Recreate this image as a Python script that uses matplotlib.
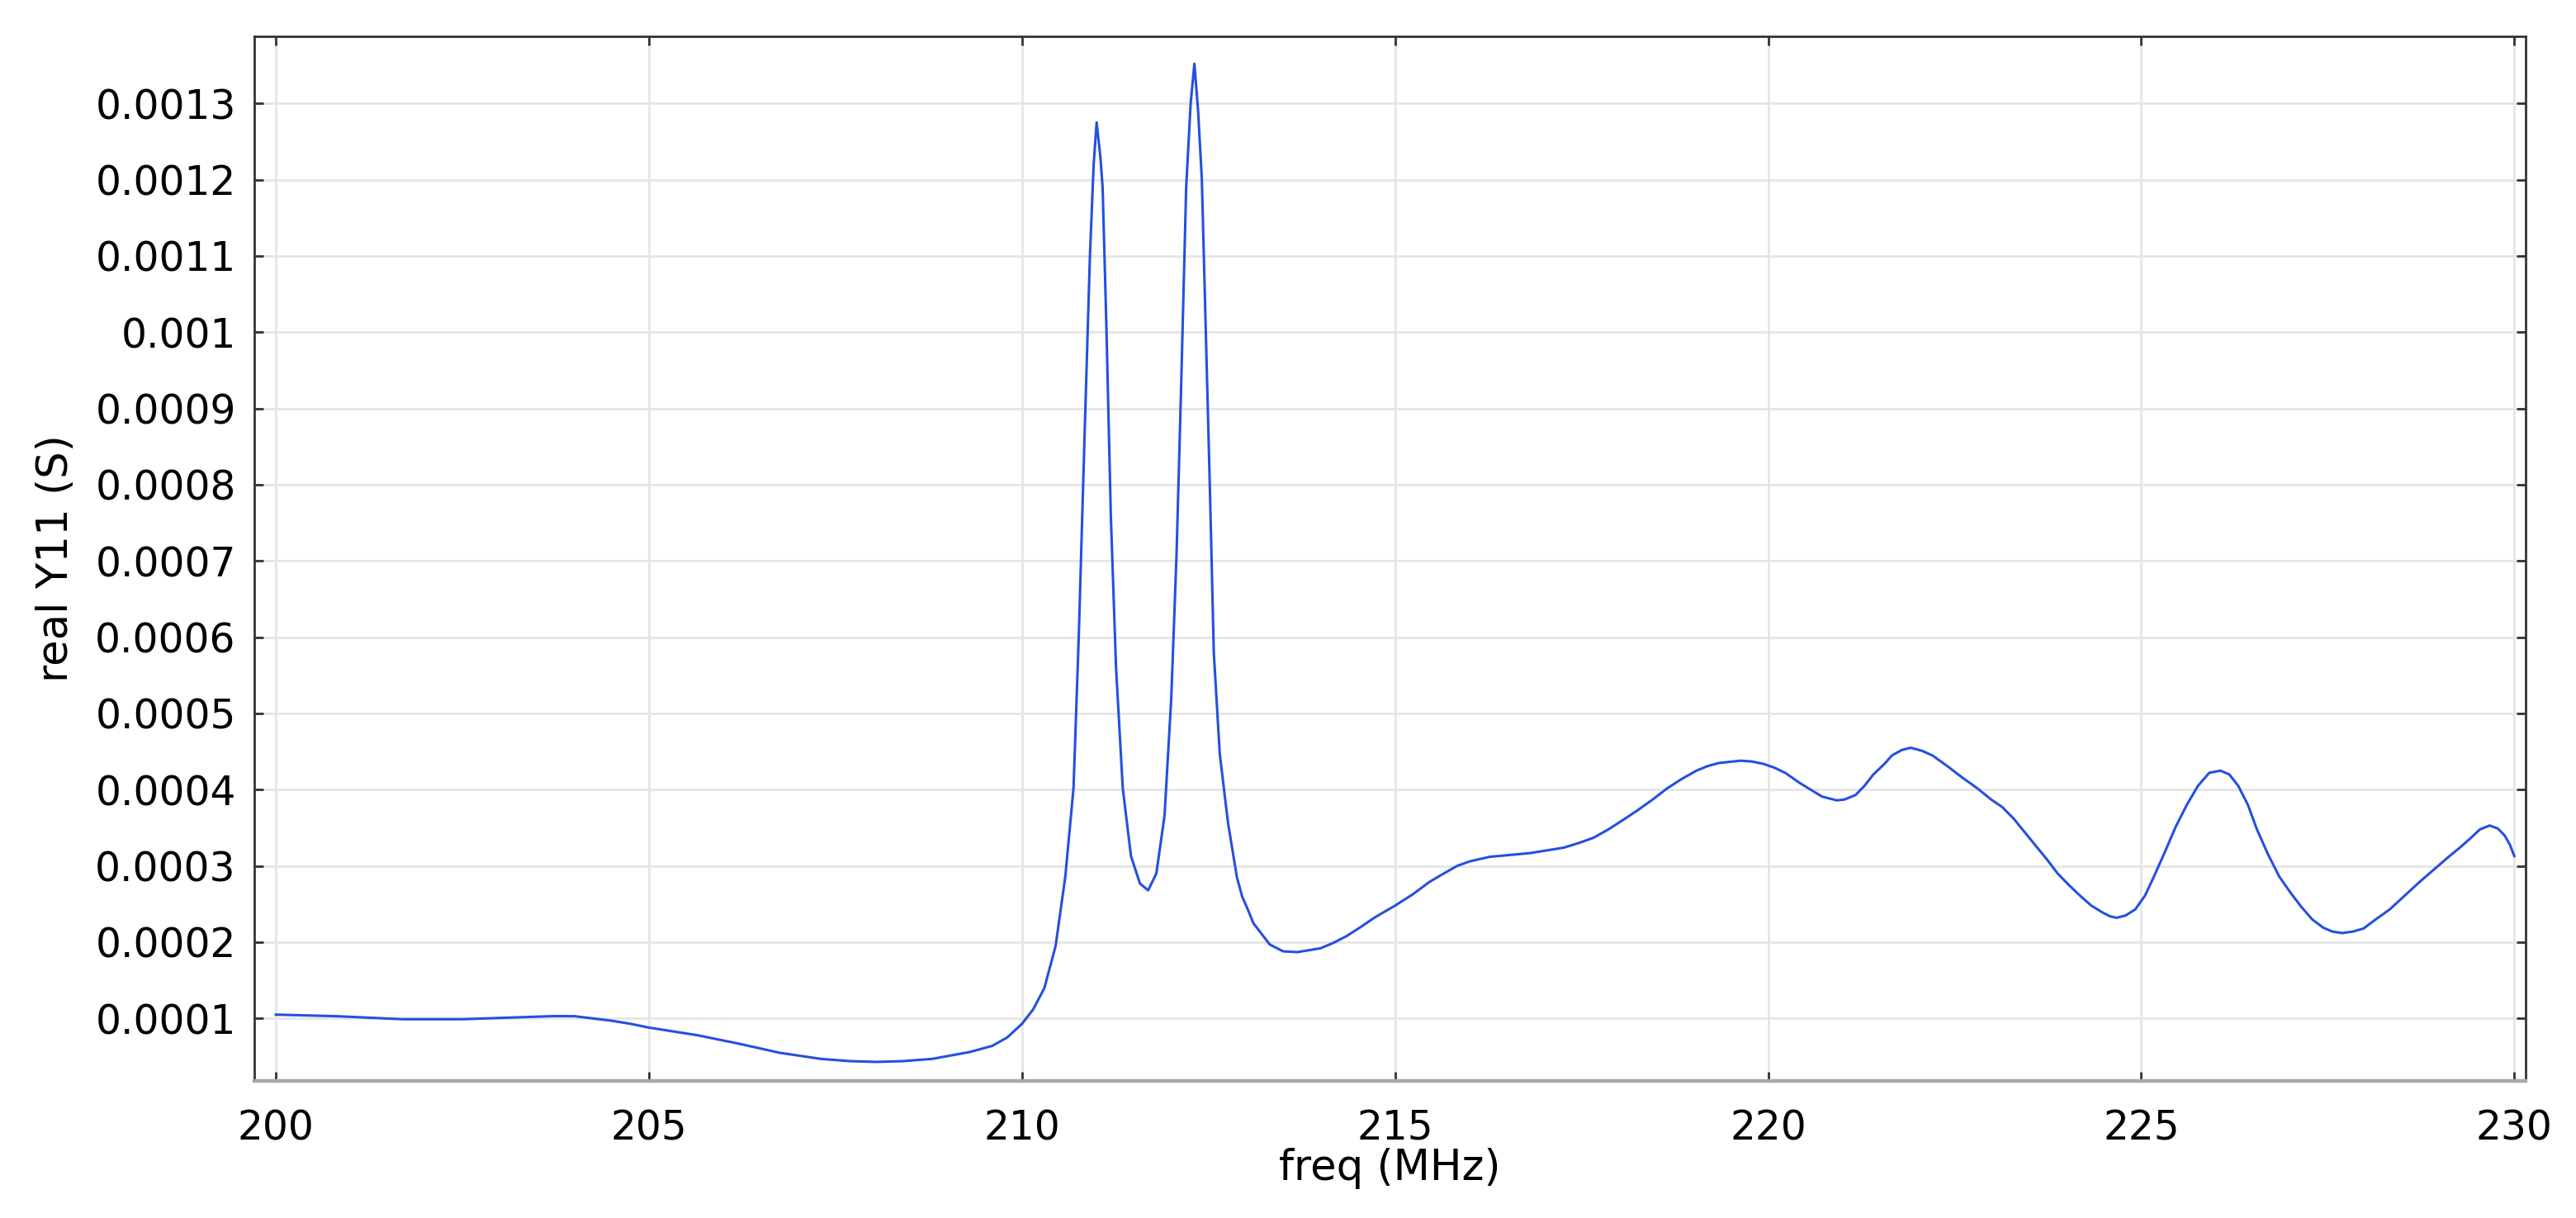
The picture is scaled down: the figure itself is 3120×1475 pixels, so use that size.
import numpy as np
import matplotlib
matplotlib.use("Agg")
import matplotlib.pyplot as plt
from matplotlib.ticker import FuncFormatter


# frequency (MHz) and real Y11 (in units of 1e-4 S)
freq = [200.0, 200.8, 201.7, 202.5, 203.1, 203.7, 204.0, 204.5, 204.75, 205.0,
        205.65, 206.2, 206.75, 207.3, 207.7, 208.05, 208.4, 208.8, 209.3, 209.6,
        209.8, 210.0, 210.15, 210.3, 210.45, 210.58, 210.69, 210.76, 210.84, 210.91,
        210.96, 211.0, 211.05, 211.08, 211.13, 211.19, 211.26, 211.35, 211.46, 211.58,
        211.69, 211.8, 211.91, 212.0, 212.07, 212.13, 212.2, 212.26, 212.31, 212.36,
        212.41, 212.46, 212.52, 212.57, 212.65, 212.76, 212.88, 212.95, 213.03, 213.1,
        213.32, 213.5, 213.69, 214.0, 214.17, 214.35, 214.54, 214.72, 215.0, 215.24,
        215.46, 215.65, 215.83, 216.0, 216.27, 216.5, 216.82, 217.07, 217.26, 217.46,
        217.66, 217.86, 218.05, 218.25, 218.45, 218.65, 218.84, 219.04, 219.19, 219.34,
        219.63, 219.78, 219.93, 220.08, 220.23, 220.42, 220.57, 220.72, 220.92, 221.02,
        221.17, 221.29, 221.41, 221.56, 221.66, 221.79, 221.91, 222.06, 222.2, 222.4,
        222.6, 222.8, 222.99, 223.14, 223.29, 223.44, 223.59, 223.74, 223.88, 224.03,
        224.18, 224.33, 224.48, 224.58, 224.67, 224.79, 224.92, 225.05, 225.17, 225.32,
        225.46, 225.61, 225.76, 225.91, 226.06, 226.18, 226.3, 226.43, 226.55, 226.7,
        226.85, 227.0, 227.14, 227.29, 227.44, 227.56, 227.69, 227.84, 227.98, 228.13,
        228.33, 228.53, 228.73, 228.92, 229.12, 229.27, 229.42, 229.54, 229.67, 229.78,
        229.87, 229.94, 230.0]
y11 = [1.05, 1.03, 0.99, 0.99, 1.01, 1.03, 1.03, 0.97, 0.93, 0.88,
       0.78, 0.67, 0.55, 0.47, 0.44, 0.43, 0.44, 0.47, 0.56, 0.64,
       0.75, 0.93, 1.12, 1.40, 1.95, 2.86, 4.02, 6.0, 8.7, 11.0,
       12.2, 12.75, 12.3, 11.9, 10.1, 7.6, 5.6, 4.02, 3.13, 2.77,
       2.68, 2.9, 3.66, 5.2, 7.06, 9.2, 11.9, 13.0, 13.52, 12.9,
       12.0, 10.1, 7.86, 5.8, 4.47, 3.57, 2.85, 2.6, 2.42, 2.25,
       1.97, 1.88, 1.87, 1.92, 1.99, 2.08, 2.2, 2.32, 2.48, 2.63,
       2.79, 2.9, 3.0, 3.06, 3.12, 3.14, 3.17, 3.21, 3.24, 3.30,
       3.37, 3.48, 3.60, 3.73, 3.87, 4.02, 4.14, 4.25, 4.31, 4.35,
       4.38, 4.37, 4.34, 4.29, 4.22, 4.09, 4.0, 3.91, 3.86, 3.87,
       3.93, 4.05, 4.2, 4.34, 4.45, 4.52, 4.55, 4.51, 4.45, 4.31,
       4.16, 4.02, 3.87, 3.77, 3.62, 3.44, 3.26, 3.08, 2.9, 2.75,
       2.61, 2.48, 2.39, 2.34, 2.32, 2.35, 2.43, 2.61, 2.86, 3.19,
       3.51, 3.80, 4.05, 4.22, 4.25, 4.2, 4.05, 3.80, 3.48, 3.15,
       2.86, 2.65, 2.47, 2.30, 2.19, 2.14, 2.12, 2.14, 2.18, 2.29,
       2.43, 2.61, 2.79, 2.95, 3.12, 3.24, 3.37, 3.48, 3.53, 3.49,
       3.40, 3.28, 3.13]

x_ticks = [200, 205, 210, 215, 220, 225, 230]
y_ticks = [0.0001 * k for k in range(1, 14)]

freq = np.array(freq)
y11 = np.array(y11) * 1e-4

plt.rcParams['font.family'] = ['DejaVu Sans']

fig = plt.figure(figsize=(15.6, 7.375), dpi=200)
ax = fig.add_axes([0.0987, 0.1125, 0.8817, 0.8577])

ax.plot(freq, y11, color='#2450e0', lw=1.1)

ax.set_xlim(199.71, 230.15)
ax.set_ylim(0.000018, 0.001388)
ax.set_xticks(x_ticks)
ax.set_yticks(y_ticks)
ax.yaxis.set_major_formatter(FuncFormatter(lambda v, p: f"{v:.4f}".rstrip('0')))

# light grid
ax.grid(True, color='#e6e6e6', lw=1.0)
ax.set_axisbelow(True)

# inward ticks on every side
ax.tick_params(axis='both', direction='in', length=4, width=1.0, color='#333333',
               labelsize=17.5, top=True, right=True)
ax.tick_params(axis='x', pad=12)
ax.tick_params(axis='y', pad=8)

for s in ['left', 'right', 'top']:
    ax.spines[s].set_color('#333333')
    ax.spines[s].set_linewidth(1.0)
ax.spines['bottom'].set_color('#a8a8a8')
ax.spines['bottom'].set_linewidth(1.6)

ax.set_xlabel('freq (MHz)', fontsize=18.5, labelpad=0)
ax.set_ylabel('real Y11 (S)', fontsize=18.5, labelpad=8)

fig.savefig('out.png', dpi=200, facecolor='white')
